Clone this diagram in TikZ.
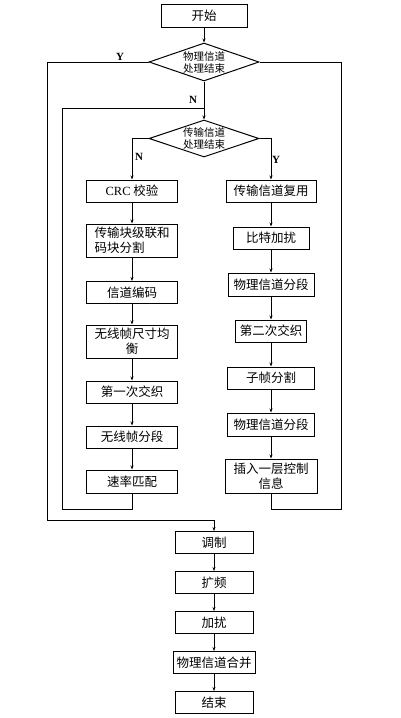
\documentclass[tikz,border=0pt]{standalone}
\usepackage{fontspec}
\setmainfont{Liberation Serif}
\newfontfamily\cjk{Noto Sans CJK SC}
\usetikzlibrary{shapes.geometric,arrows.meta}

\tikzset{
  box/.style={draw,line width=1pt,inner sep=0pt,minimum height=22pt,font=\cjk\fontsize{12.5}{15}\selectfont,align=center},
  dec/.style={draw,diamond,aspect=2.9,inner sep=0pt,line width=1pt,minimum width=110pt,minimum height=38pt,font=\cjk\fontsize{10.5}{12}\selectfont,align=center},
  flow/.style={line width=0.9pt},
  arr/.style={flow,-{Stealth[length=4pt,width=3pt]}},
  yn/.style={font=\fontsize{11}{12}\selectfont\bfseries,inner sep=0pt}
}

\begin{document}
\begin{tikzpicture}[x=1pt,y=1pt,yscale=-1,xscale=1]
\useasboundingbox (0,0) rectangle (400,718);

%Start and decisions
\node [box,minimum width=86pt,minimum height=23pt] (start) at (204,15.5) {开始};
\node [dec] (phydone) at (204,62) {物理信道\\处理结束};
\node [dec,minimum height=37pt] (trdone) at (204,138.5) {传输信道\\处理结束};
\coordinate (join) at (204,108);

%Left column: transport channel
\node [box,minimum width=91pt] (crc) at (132,191) {{\rmfamily CRC} 校验};
\node [box,minimum width=91pt,minimum height=33pt,align=left] (concat) at (132,240.5) {传输块级联和\\码块分割};
\node [box,minimum width=91pt] (coding) at (132,292.5) {信道编码};
\node [box,minimum width=91pt,minimum height=33pt] (equal) at (132,341.5) {无线帧尺寸均\\衡};
\node [box,minimum width=91pt] (inter1) at (132,392) {第一次交织};
\node [box,minimum width=91pt] (frameseg) at (132,437) {无线帧分段};
\node [box,minimum width=91pt,minimum height=23pt] (rate) at (132,481.5) {速率匹配};

%Right column: physical channel
\node [box,minimum width=90pt] (mux) at (271,191) {传输信道复用};
\node [box,minimum width=76pt] (bitscr) at (271,238) {比特加扰};
\node [box,minimum width=86pt,minimum height=23pt] (physeg) at (271,284.5) {物理信道分段};
\node [box,minimum width=71pt] (inter2) at (271,331) {第二次交织};
\node [box,minimum width=87pt] (subframe) at (271,378) {子帧分割};
\node [box,minimum width=87pt,minimum height=23pt] (physegb) at (271,424.5) {物理信道分段};
\node [box,minimum width=92pt,minimum height=34pt] (insert) at (271,476) {插入一层控制\\信息};

%Bottom column
\node [box,minimum width=78pt] (mod) at (214,542.5) {调制};
\node [box,minimum width=78pt] (spread) at (214,582.5) {扩频};
\node [box,minimum width=78pt] (scr) at (214,622.5) {加扰};
\node [box,minimum width=82pt] (merge) at (214,662.5) {物理信道合并};
\node [box,minimum width=78pt] (finish) at (214,702.5) {结束};

%Loop corners
\coordinate (lloop) at (62,509);
\coordinate (rloop) at (341,509);
\coordinate (yout) at (47,520);

%Connectors
\draw [arr] (start) -- (phydone);
\draw [arr] (phydone) -- (trdone);
\draw [arr] (trdone.west) -| (crc.north);
\draw [arr] (trdone.east) -| (mux.north);
\draw [arr] (crc) -- (concat);
\draw [arr] (concat) -- (coding);
\draw [arr] (coding) -- (equal);
\draw [arr] (equal) -- (inter1);
\draw [arr] (inter1) -- (frameseg);
\draw [arr] (frameseg) -- (rate);
\draw [arr] (mux) -- (bitscr);
\draw [arr] (bitscr) -- (physeg);
\draw [arr] (physeg) -- (inter2);
\draw [arr] (inter2) -- (subframe);
\draw [arr] (subframe) -- (physegb);
\draw [arr] (physegb) -- (insert);
\draw [flow] (rate.south) |- (lloop) |- (join);
\draw [flow] (insert.south) |- (rloop) |- (phydone.east);
\draw [arr] (phydone.west) -| (yout) -| (mod.north);
\draw [arr] (mod) -- (spread);
\draw [arr] (spread) -- (scr);
\draw [arr] (scr) -- (merge);
\draw [arr] (merge) -- (finish);

% Labels
\node [yn] (ylab) at (120,57) {Y};
\node [yn] (nlab) at (193,100) {N};
\node [yn] (nlabb) at (139,157) {N};
\node [yn] (ylabb) at (276,160) {Y};
\end{tikzpicture}
\end{document}
